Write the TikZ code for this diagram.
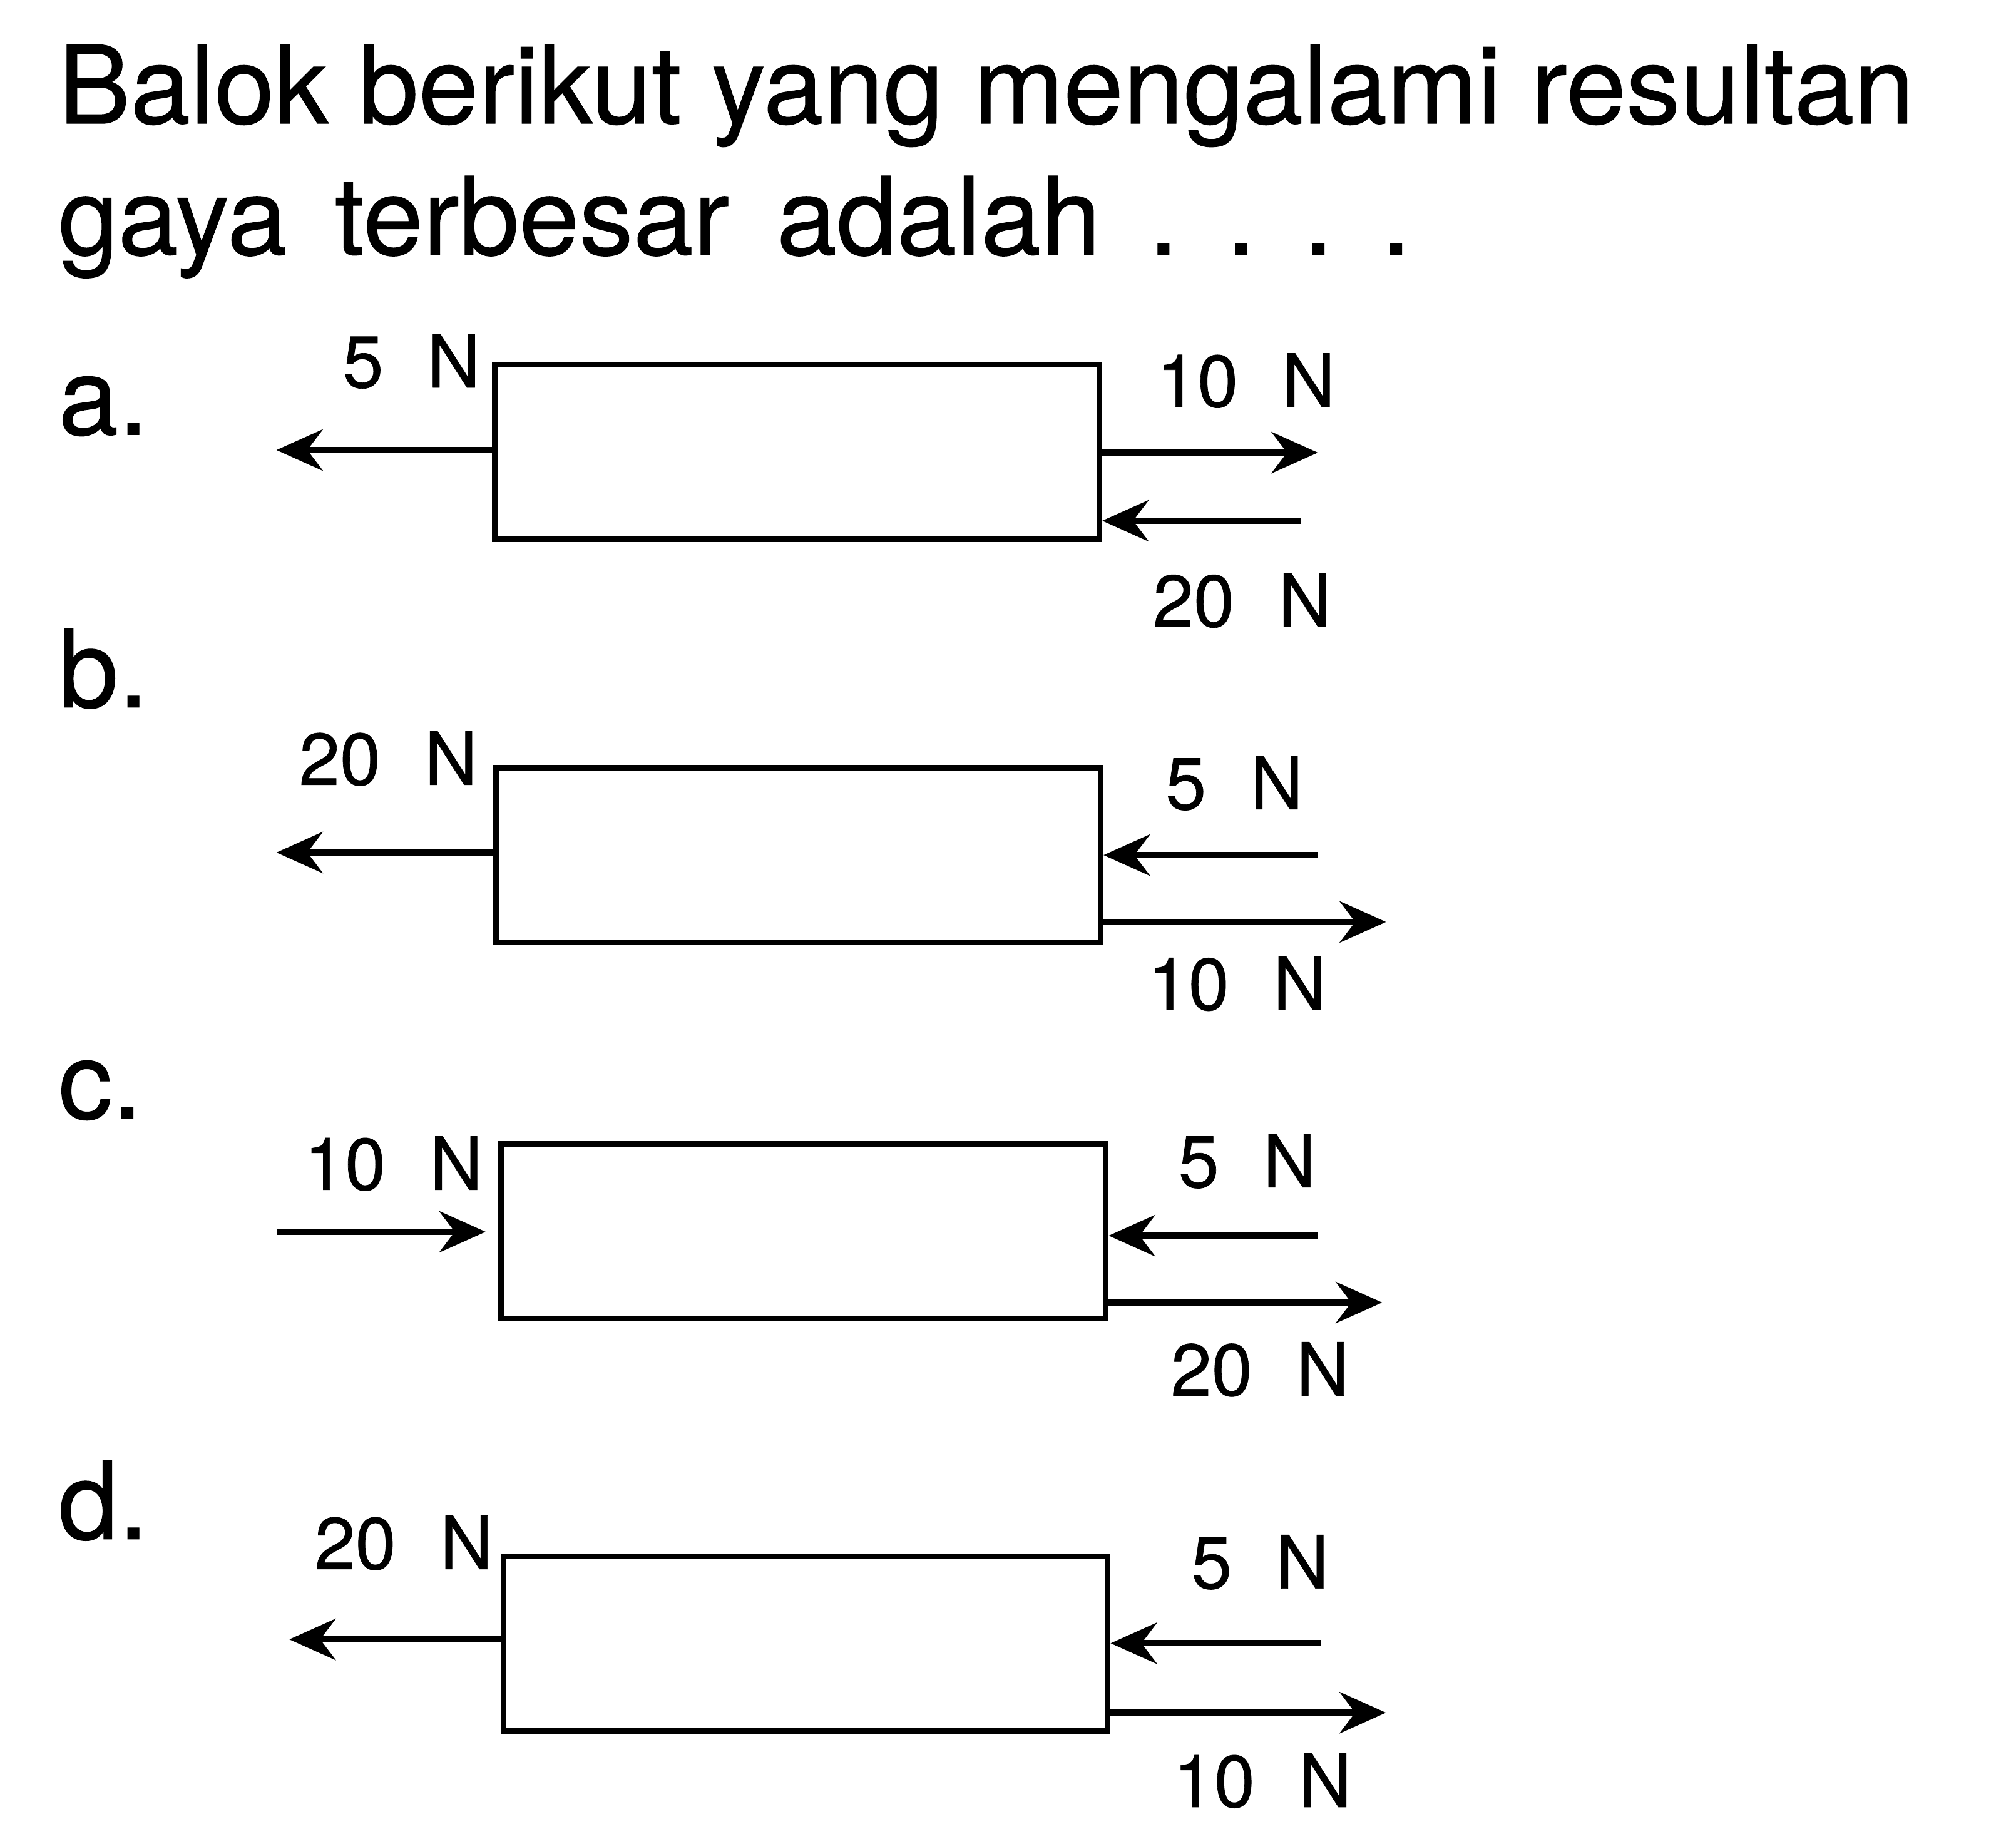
\documentclass[tikz,border=0pt]{standalone}
\usepackage{fontspec}
\setmainfont{TeX Gyre Heros}[FakeBold=0.6]
\usetikzlibrary{arrows.meta}
\newcommand{\besar}[1]{#1\hspace{0.6em}N}

\begin{document}
\begin{tikzpicture}[x=0.5pt,y=-0.5pt,
  blok/.style={draw,line width=2.3pt,minimum width=235pt,minimum height=68pt,inner sep=0pt},
  gaya/.style={-{Stealth[length=18pt,width=16pt,inset=6pt]},line width=2.5pt},
  lbl/.style={font=\fontsize{28.5}{32}\selectfont,inner sep=0pt},
  ttl/.style={font=\fontsize{42}{48}\selectfont,anchor=base west,inner sep=0pt}]
\useasboundingbox (0,0) rectangle (1568,1430);

% Question
\node[ttl] (judul1) at (45,96) {Balok berikut yang mengalami resultan};
\node[ttl] (judul2) at (45,198) {\frenchspacing\spaceskip=0.44em gaya terbesar adalah . . . .};

% Option a
\node[ttl] (opsia) at (45,338) {a.};
\node[blok] (boxa) at (620,351.5) {};
\coordinate (ka) at (215,350);
\coordinate (kna) at (1025,352);
\coordinate (kba) at (1012,405);
\draw[gaya] (boxa.west |- ka) -- (ka);
\draw[gaya] (boxa.east |- kna) -- (kna);
\draw[gaya] (kba) -- (boxa.east |- kba);
\node[lbl] (fa1) at (320,281) {\besar{5}};
\node[lbl] (fa2) at (969,296) {\besar{10}};
\node[lbl] (fa3) at (966,467) {\besar{20}};

% Option b
\node[ttl] (opsib) at (45,550) {b.};
\node[blok] (boxb) at (621,665) {};
\coordinate (kb) at (215,663);
\coordinate (knb) at (1025,665);
\coordinate (kbb) at (1078,717);
\draw[gaya] (boxb.west |- kb) -- (kb);
\draw[gaya] (knb) -- (boxb.east |- knb);
\draw[gaya] (boxb.east |- kbb) -- (kbb);
\node[lbl] (fb1) at (302,590) {\besar{20}};
\node[lbl] (fb2) at (960,609) {\besar{5}};
\node[lbl] (fb3) at (962,765) {\besar{10}};

% Option c
\node[ttl] (opsic) at (45,870) {c.};
\node[blok] (boxc) at (625,957.5) {};
\coordinate (kc) at (215,958);
\coordinate (knc) at (1025,961);
\coordinate (kbc) at (1075,1013);
\draw[gaya] (kc) -- ([xshift=-5pt]boxc.west |- kc);
\draw[gaya] (knc) -- (boxc.east |- knc);
\draw[gaya] (boxc.east |- kbc) -- (kbc);
\node[lbl] (fc1) at (306,905) {\besar{10}};
\node[lbl] (fc2) at (970,903) {\besar{5}};
\node[lbl] (fc3) at (980,1065) {\besar{20}};

% Option d
\node[ttl] (opsid) at (45,1197) {d.};
\node[blok] (boxd) at (626.5,1278.5) {};
\coordinate (kd) at (225,1275);
\coordinate (knd) at (1027,1278);
\coordinate (kbd) at (1078,1332);
\draw[gaya] (boxd.west |- kd) -- (kd);
\draw[gaya] (knd) -- (boxd.east |- knd);
\draw[gaya] (boxd.east |- kbd) -- (kbd);
\node[lbl] (fd1) at (314,1200) {\besar{20}};
\node[lbl] (fd2) at (980,1215) {\besar{5}};
\node[lbl] (fd3) at (982,1385) {\besar{10}};

\end{tikzpicture}
\end{document}
